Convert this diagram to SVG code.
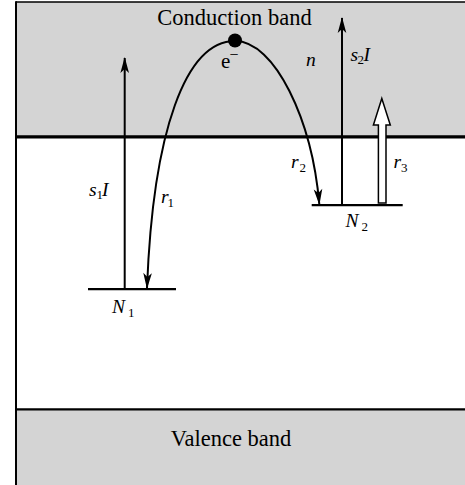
<svg xmlns="http://www.w3.org/2000/svg" width="465" height="485" viewBox="0 0 465 485">
<defs>
<style>
.band{fill:#d4d4d4;stroke:none}
.edge{stroke:#000;fill:none}
.ln{stroke:#000;stroke-width:2;fill:none}
.lvl{stroke:#000;stroke-width:2.2;fill:none}
text{font-family:"Liberation Serif","DejaVu Serif",serif;fill:#000}
.it{font-style:italic;font-size:19.5px}
.sub{font-style:normal;font-size:13px}
.big{font-size:22.5px}
</style>
<marker id="ah" markerUnits="userSpaceOnUse" markerWidth="20" markerHeight="12" viewBox="-16 -6 18 12" refX="0" refY="0" orient="auto">
<path d="M1,0 L-15,-4.3 L-11,0 L-15,4.3 Z" fill="#000"/>
</marker>
</defs>
<rect width="465" height="485" fill="#fff"/>
<g id="bands">
<rect class="band" x="16" y="2" width="449" height="135"/>
<rect class="band" x="16" y="409" width="449" height="76"/>
<line class="edge" x1="16" y1="2" x2="465" y2="2" stroke-width="1.5"/>
<line class="edge" x1="16" y1="1.2" x2="16" y2="485" stroke-width="2"/>
<line class="edge" x1="16" y1="136.8" x2="465" y2="136.8" stroke-width="3.2"/>
<line class="edge" x1="16" y1="409.3" x2="465" y2="409.3" stroke-width="2.2"/>
</g>
<g id="connectors">
<line id="s1I-arrow" class="ln" x1="124.7" y1="289" x2="124.7" y2="58" marker-end="url(#ah)"/>
<line id="s2I-arrow" class="ln" x1="342" y1="205" x2="342" y2="18" marker-end="url(#ah)"/>
<path id="r1-arrow" class="ln" d="M235,41 C186,41 153,130 147,288" marker-end="url(#ah)"/>
<path id="r2-arrow" class="ln" d="M235,41 C275,41 312,120 319.3,204" marker-end="url(#ah)"/>
<polygon id="r3-arrow" points="378.4,203 378.4,125 373.4,125 381.8,98.5 390.3,125 386,125 386,203" fill="#fff" stroke="#000" stroke-width="1.5" stroke-linejoin="miter"/>
</g>
<g id="N1">
<line class="lvl" x1="88" y1="289.2" x2="176" y2="289.2"/>
<text class="it" x="112" y="313">N<tspan class="sub" x="128" y="316.5">1</tspan></text>
</g>
<g id="N2">
<line class="lvl" x1="311.7" y1="205.2" x2="402.7" y2="205.2"/>
<text class="it" x="345.5" y="226.5">N<tspan class="sub" x="361.5" y="230.5">2</tspan></text>
</g>
<g id="electron">
<circle cx="235" cy="40.5" r="7" fill="#000"/>
<text x="221" y="68.3" font-size="21">e</text>
<text x="229.5" y="60" font-size="16">−</text>
</g>
<g id="labels">
<text class="big" x="234.5" y="24.5" text-anchor="middle">Conduction band</text>
<text class="big" x="231" y="445.7" text-anchor="middle">Valence band</text>
<text class="it" x="306" y="66">n</text>
<text class="it" x="350.5" y="60.5">s<tspan class="sub" x="357.5" y="64">2</tspan><tspan x="363.5" y="60.5">I</tspan></text>
<text class="it" x="89" y="195.5">s<tspan class="sub" x="96.5" y="199">1</tspan><tspan x="102" y="195.5">I</tspan></text>
<text class="it" x="161" y="203">r<tspan class="sub" x="167.5" y="206.5">1</tspan></text>
<text class="it" x="291" y="168">r<tspan class="sub" x="299.5" y="171.5">2</tspan></text>
<text class="it" x="393.5" y="168">r<tspan class="sub" x="401" y="171.5">3</tspan></text>
</g>
</svg>
